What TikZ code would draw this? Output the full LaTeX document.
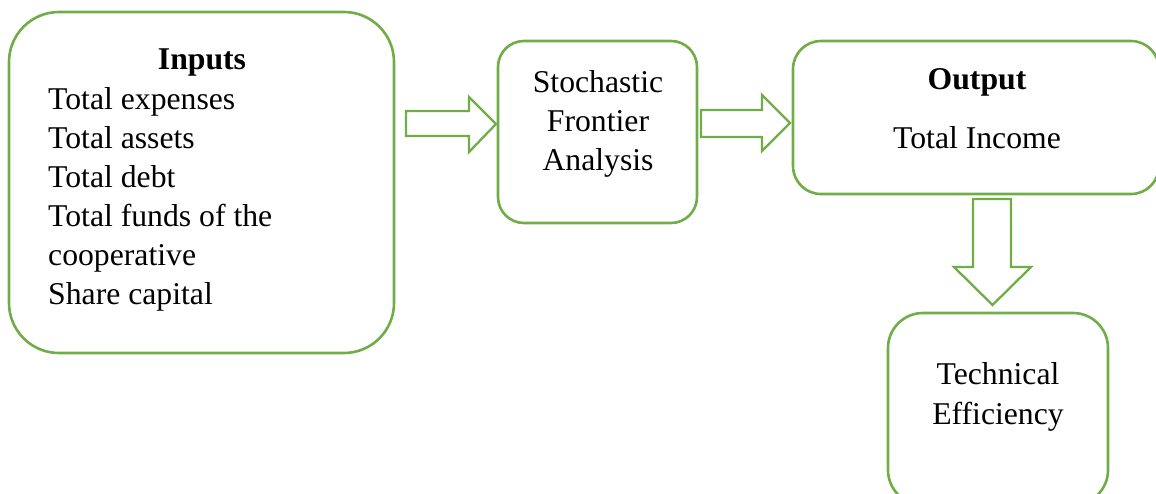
\documentclass[tikz,border=0pt]{standalone}
\usepackage{fontspec}
\setmainfont{Liberation Serif}
\definecolor{frame}{HTML}{70AD47}
\begin{document}
\begin{tikzpicture}[x=1pt,y=-1pt,
  box/.style={draw=frame, line width=2.6pt, inner sep=0pt, outer sep=0pt},
  txt/.style={inner sep=0pt, font=\fontsize{31.7}{39}\selectfont},
  head/.style={txt, font=\fontsize{31.7}{39}\selectfont\bfseries},
  blockarrow/.style={draw=frame, line width=2.3pt, line join=miter, fill=white}]
\useasboundingbox (0,0) rectangle (1156,493);
\clip (0,0) rectangle (1156,493);

% boxes
\node[box, rounded corners=50pt, minimum width=385pt, minimum height=341pt] (inputs) at (201.5,182.5) {};
\node[box, rounded corners=26pt, minimum width=199pt, minimum height=182pt] (sfa) at (597.5,132) {};
\node[box, rounded corners=28pt, minimum width=366pt, minimum height=153pt] (output) at (976,117.5) {};
\node[box, rounded corners=35pt, minimum width=220pt, minimum height=192pt] (te) at (998,409) {};

% inputs
\node[head, anchor=base] (inhead) at (202,69) {Inputs};
\node[txt, anchor=base west] (in1) at (48,109) {Total expenses};
\node[txt, anchor=base west] (in2) at (48,148) {Total assets};
\node[txt, anchor=base west] (in3) at (48,187) {Total debt};
\node[txt, anchor=base west] (in4) at (48,226) {Total funds of the};
\node[txt, anchor=base west] (in5) at (48,265) {cooperative};
\node[txt, anchor=base west] (in6) at (48,304) {Share capital};

% stochastic frontier analysis
\node[txt, anchor=base] (sfa1) at (598,92) {Stochastic};
\node[txt, anchor=base] (sfa2) at (598,131) {Frontier};
\node[txt, anchor=base] (sfa3) at (598,170) {Analysis};

% output
\node[head, anchor=base] (outhead) at (977,89) {Output};
\node[txt, anchor=base] (out1) at (977,148) {Total Income};

% technical efficiency
\node[txt, anchor=base] (te1) at (998,384) {Technical};
\node[txt, anchor=base] (te2) at (998,424) {Efficiency};

% block arrows
\draw[blockarrow] (406,111) -- (469,111) -- (469,97) -- (496,124) -- (469,152) -- (469,136) -- (406,136) -- cycle;
\draw[blockarrow] (701,110) -- (762,110) -- (762,95) -- (790,123) -- (762,151) -- (762,137) -- (701,137) -- cycle;
\draw[blockarrow] (973,199) -- (1011,199) -- (1011,267) -- (1031,267) -- (992.5,305) -- (954,267) -- (973,267) -- cycle;
\end{tikzpicture}
\end{document}
